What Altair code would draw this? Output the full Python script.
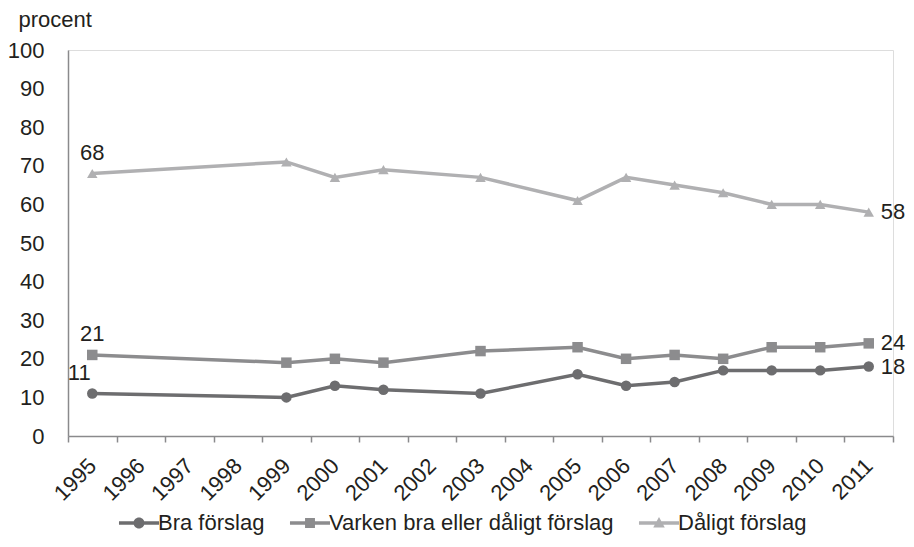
import altair as alt
import pandas as pd

years = [1995, 1999, 2000, 2001, 2003, 2005, 2006, 2007, 2008, 2009, 2010, 2011]
bra = [11, 10, 13, 12, 11, 16, 13, 14, 17, 17, 17, 18]
varken = [21, 19, 20, 19, 22, 23, 20, 21, 20, 23, 23, 24]
daligt = [68, 71, 67, 69, 67, 61, 67, 65, 63, 60, 60, 58]
series = ["Bra förslag", "Varken bra eller dåligt förslag", "Dåligt förslag"]
colors = ["#6d6d6f", "#8c8c8e", "#b0b0b2"]
all_years = list(range(1995, 2012))

rows = []
for name, vals in zip(series, [bra, varken, daligt]):
    for y, v in zip(years, vals):
        rows.append({"year": y, "value": v, "serie": name})
df = pd.DataFrame(rows)

FONT = "Liberation Sans"
TXT = "#231f20"
FS = 22
W = 825
H = 386

xscale = alt.Scale(domain=[all_years[0] - 0.5, all_years[-1] + 0.5], nice=False, zero=False)
yscale = alt.Scale(domain=[0, 100], nice=False)
cscale = alt.Scale(domain=series, range=colors)

bounds = [y - 0.5 for y in all_years] + [all_years[-1] + 0.5]

x_enc = alt.X("year:Q", scale=xscale, axis=alt.Axis(
    values=bounds, title=None, grid=False,
    labelExpr="datum.value < %d ? toString(datum.value + 0.5) : ''" % all_years[-1],
    labelAngle=-45, labelAlign="right", labelBaseline="middle",
    labelOffset=W / len(all_years) / 2, labelPadding=20, labelFlush=False, labelOverlap=False,
    labelFontSize=FS, labelFont=FONT, labelColor=TXT,
    tickSize=6, tickColor="#8a8a8c", tickWidth=1.5,
    domainColor="#8a8a8c", domainWidth=1.5))
y_enc = alt.Y("value:Q", scale=yscale, axis=alt.Axis(
    values=list(range(0, 101, 10)), tickCount=11, grid=False, ticks=False, labelOverlap=False,
    labelPadding=24, labelFontSize=FS, labelFont=FONT, labelColor=TXT,
    domainColor="#8a8a8c", domainWidth=1.5,
    title="procent", titleAngle=0, titleAlign="left", titleBaseline="alphabetic",
    titleX=-50, titleY=-24, titleFontSize=FS, titleFont=FONT, titleColor=TXT,
    titleFontWeight="normal"))

base = alt.Chart(df)

lines = base.mark_line(strokeWidth=3.5).encode(
    x=x_enc, y=y_enc,
    color=alt.Color("serie:N", scale=cscale, legend=None),
    detail="serie:N")

pts = base.mark_point(filled=True, opacity=1, size=110).encode(
    x=x_enc, y=y_enc,
    color=alt.Color("serie:N", scale=cscale, legend=None),
    shape=alt.Shape("serie:N", scale=alt.Scale(domain=series, range=["circle", "square", "triangle-up"]), legend=None))

# legend-only layer (no marks drawn)
u_line = 3.64
t = 0.32
bar = "M-%.2f,-%.2f L%.2f,-%.2f L%.2f,%.2f L-%.2f,%.2f Z " % (u_line, t, u_line, t, u_line, t, u_line, t)
leg_shapes = [
    bar + "M1,0 A1,1 0 1,1 -1,0 A1,1 0 1,1 1,0 Z",
    bar + "M-0.9,-0.9 L0.9,-0.9 L0.9,0.9 L-0.9,0.9 Z",
    bar + "M0,-1.1 L1.05,0.8 L-1.05,0.8 Z",
]
legend_def = alt.Legend(
    title=None, orient="none", direction="horizontal", legendX=60, legendY=462,
    labelFontSize=FS, labelFont=FONT, labelColor=TXT, labelLimit=0, symbolSize=121,
    labelOffset=8, columnPadding=21, symbolOpacity=1)
leg = base.transform_filter("false").mark_point(filled=True, opacity=1).encode(
    x=x_enc, y=y_enc,
    color=alt.Color("serie:N", scale=cscale, legend=legend_def),
    shape=alt.Shape("serie:N", scale=alt.Scale(domain=series, range=leg_shapes), legend=legend_def))

first = base.transform_filter(
    (alt.datum.year == years[0]) & (alt.datum.serie != series[0])
).mark_text(dy=-21, fontSize=FS, font=FONT, color=TXT).encode(
    x=x_enc, y=y_enc, text="value:Q")
first_bra = base.transform_filter(
    (alt.datum.year == years[0]) & (alt.datum.serie == series[0])
).mark_text(dx=-13, dy=-21, fontSize=FS, font=FONT, color=TXT).encode(
    x=x_enc, y=y_enc, text="value:Q")
last = base.transform_filter(alt.datum.year == years[-1]).mark_text(
    align="left", baseline="middle", dx=12, fontSize=FS, font=FONT, color=TXT).encode(
    x=x_enc, y=y_enc, text="value:Q")

chart = alt.layer(lines, pts, leg, first, first_bra, last).resolve_scale(
    shape="independent", color="independent"
).properties(
    width=W, height=H,
    autosize=alt.AutoSizeParams(type="none"),
    padding={"left": 60, "top": 42, "right": 13, "bottom": 103},
).configure_view(stroke=None).configure(background="white")

chart.save("out.html", embed_options={"renderer": "svg", "actions": False})
